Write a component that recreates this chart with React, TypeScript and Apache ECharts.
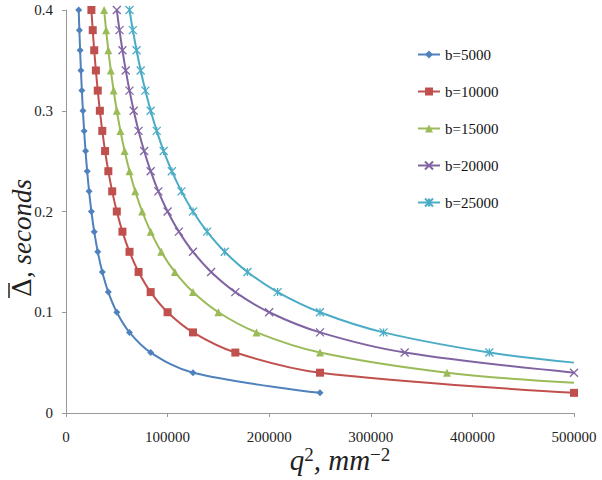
import React, { useEffect, useRef } from "react";
import * as echarts from "echarts";

const seriesNames = ["b=5000", "b=10000", "b=15000", "b=20000", "b=25000"];

// q^2 values (x), paired with Δ values (y)
const delta5000 = [0.4, 0.38, 0.36, 0.34, 0.32, 0.3, 0.28, 0.26, 0.24, 0.22, 0.2, 0.18, 0.16, 0.14, 0.12, 0.1, 0.08, 0.06, 0.04, 0.02];
const q5000 = [12500, 13158, 13889, 14706, 15625, 16667, 17857, 19231, 20833, 22727, 25000, 27778, 31250, 35714, 41667, 50000, 62500, 83333, 125000, 250000];

const delta10000 = [0.4, 0.38, 0.36, 0.34, 0.32, 0.3, 0.28, 0.26, 0.24, 0.22, 0.2, 0.18, 0.16, 0.14, 0.12, 0.1, 0.08, 0.06, 0.04, 0.02];
const q10000 = [25000, 26316, 27778, 29412, 31250, 33333, 35714, 38462, 41667, 45455, 50000, 55556, 62500, 71429, 83333, 100000, 125000, 166667, 250000, 500000];

const delta15000 = [0.4, 0.38, 0.36, 0.34, 0.32, 0.3, 0.28, 0.26, 0.24, 0.22, 0.2, 0.18, 0.16, 0.14, 0.12, 0.1, 0.08, 0.06, 0.04, 0.03];
const q15000 = [37500, 39474, 41667, 44118, 46875, 50000, 53571, 57692, 62500, 68182, 75000, 83333, 93750, 107143, 125000, 150000, 187500, 250000, 375000, 500000];

const delta20000 = [0.4, 0.38, 0.36, 0.34, 0.32, 0.3, 0.28, 0.26, 0.24, 0.22, 0.2, 0.18, 0.16, 0.14, 0.12, 0.1, 0.08, 0.06, 0.04];
const q20000 = [50000, 52632, 55556, 58824, 62500, 66667, 71429, 76923, 83333, 90909, 100000, 111111, 125000, 142857, 166667, 200000, 250000, 333333, 500000];

const delta25000 = [0.4, 0.38, 0.36, 0.34, 0.32, 0.3, 0.28, 0.26, 0.24, 0.22, 0.2, 0.18, 0.16, 0.14, 0.12, 0.1, 0.08, 0.06, 0.05];
const q25000 = [62500, 65789, 69444, 73529, 78125, 83333, 89286, 96154, 104167, 113636, 125000, 138889, 156250, 178571, 208333, 250000, 312500, 416667, 500000];

// end points drawn without a marker
const unmarkedEnds = [false, false, true, false, true];

const xTicks = [0, 100000, 200000, 300000, 400000, 500000];
const yTicks = [0, 0.1, 0.2, 0.3, 0.4];

const colors = ["#4F81BD", "#C0504D", "#9BBB59", "#8064A2", "#4BACC6"];
const symbols = [
  "diamond",
  "rect",
  "triangle",
  "path://M0,0 L10,10 M10,0 L0,10",
  "path://M0,0 L10,10 M10,0 L0,10 M5,0 L5,10",
];
const symbolSizes = [7, 8, 8, 8, 8];

const SERIF = "Liberation Serif";

export default function App() {
  const ref = useRef<HTMLDivElement>(null);

  useEffect(() => {
    document.body.style.margin = "0";
    if (!ref.current) return;
    const chart = echarts.init(ref.current, undefined, { renderer: "svg" });
    const qs = [q5000, q10000, q15000, q20000, q25000];
    const ds = [delta5000, delta10000, delta15000, delta20000, delta25000];

    const series = seriesNames.map((name, i) => {
      const data = qs[i].map((q, j) => {
        const isLast = j === qs[i].length - 1;
        if (isLast && unmarkedEnds[i]) {
          return { value: [q, ds[i][j]], symbol: "none" };
        }
        return { value: [q, ds[i][j]] };
      });
      const stroked = i >= 3;
      return {
        name,
        type: "line",
        data,
        smooth: 0.35,
        symbol: symbols[i],
        symbolSize: symbolSizes[i],
        showAllSymbol: true,
        lineStyle: { color: colors[i], width: 2 },
        itemStyle: {
          color: colors[i],
          borderColor: colors[i],
          borderWidth: stroked ? 1.3 : 0,
        },
        emphasis: { disabled: true },
      };
    });

    chart.setOption({
      animation: false,
      color: colors,
      grid: { left: 66, right: 28, top: 10, bottom: 67 },
      legend: {
        orient: "vertical",
        left: 412,
        top: 42,
        itemWidth: 22,
        itemHeight: 10,
        itemGap: 22,
        textStyle: { fontFamily: SERIF, fontSize: 15, color: "#111" },
        data: seriesNames,
      },
      xAxis: {
        type: "value",
        min: xTicks[0],
        max: xTicks[xTicks.length - 1],
        interval: xTicks[1] - xTicks[0],
        splitLine: { show: false },
        axisLine: { show: true, lineStyle: { color: "#999", width: 1 } },
        axisTick: { show: true, length: 4, lineStyle: { color: "#999" } },
        axisLabel: {
          fontFamily: SERIF,
          fontSize: 15,
          color: "#222",
          margin: 16,
          formatter: (v: number) => String(v),
        },
      },
      yAxis: {
        type: "value",
        min: yTicks[0],
        max: yTicks[yTicks.length - 1],
        interval: 0.1,
        splitLine: { show: false },
        axisLine: { show: true, lineStyle: { color: "#999", width: 1 } },
        axisTick: { show: true, length: 4, lineStyle: { color: "#999" } },
        axisLabel: {
          fontFamily: SERIF,
          fontSize: 15,
          color: "#222",
          margin: 13,
          formatter: (v: number) => String(Math.round(v * 10) / 10),
        },
      },
      graphic: [
        {
          type: "text",
          x: 22,
          y: 238,
          rotation: Math.PI / 2,
          style: {
            text: "{d|Δ}{i|, seconds}",
            align: "center",
            verticalAlign: "middle",
            rich: {
              d: { fontFamily: "DejaVu Serif", fontSize: 26, fill: "#222" },
              i: { fontFamily: SERIF, fontSize: 27, fontStyle: "italic", fill: "#222" },
            },
          },
        },
        {
          type: "line",
          shape: { x1: 9, y1: 283, x2: 9, y2: 298 },
          style: { stroke: "#222", lineWidth: 1.5 },
        },
        {
          type: "text",
          x: 340,
          y: 460,
          style: {
            text: "{i|q}{s|2}{i|, mm}{s|−2}",
            align: "center",
            verticalAlign: "middle",
            rich: {
              i: { fontFamily: SERIF, fontSize: 29, fontStyle: "italic", fill: "#222", lineHeight: 30 },
              s: { fontFamily: SERIF, fontSize: 19, fill: "#222", verticalAlign: "top", lineHeight: 19 },
            },
          },
        },
      ],
      series,
    });
    return () => chart.dispose();
  }, []);

  return <div ref={ref} style={{ width: 602, height: 480 }} />;
}
